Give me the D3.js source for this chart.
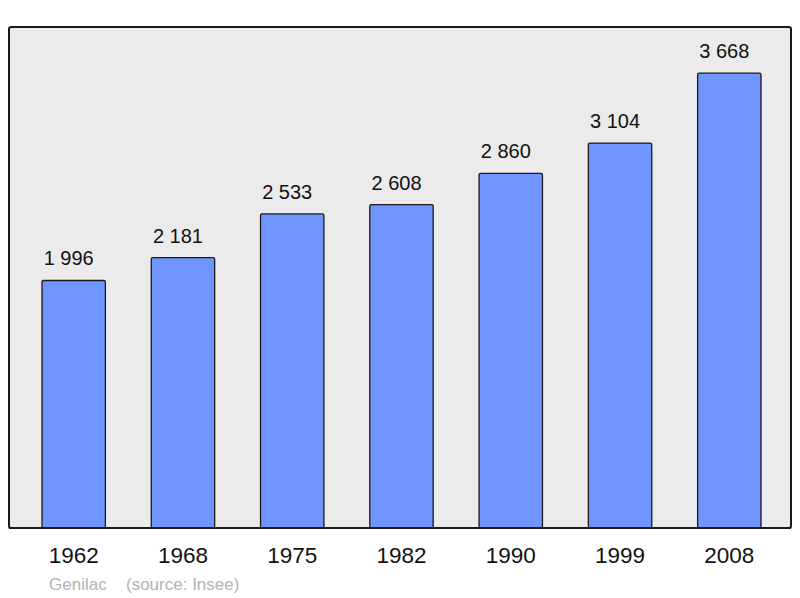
<!DOCTYPE html>
<html>
<head>
<meta charset="utf-8">
<script src="https://cdn.jsdelivr.net/npm/d3@7"></script>
<style>
  body { margin: 0; background: #fff; }
  svg { display: block; font-family: "Liberation Sans", Arial, sans-serif; }
</style>
</head>
<body>
<script>
// population by census year
const years = ["1962", "1968", "1975", "1982", "1990", "1999", "2008"];
const population = [1996, 2181, 2533, 2608, 2860, 3104, 3668];
const commune = "Genilac";
const source = "(source: Insee)";

const width = 800, height = 598;
const frame = {left: 9, top: 27, right: 791, bottom: 528};

const svg = d3.select("body").append("svg")
    .attr("width", width)
    .attr("height", height);

// background panel
svg.append("rect")
    .attr("x", frame.left)
    .attr("y", frame.top)
    .attr("width", frame.right - frame.left)
    .attr("height", frame.bottom - frame.top)
    .attr("rx", 2)
    .attr("fill", "#ebebeb")
    .attr("stroke", "#1a1a1a")
    .attr("stroke-width", 2);

const x = d3.scaleBand()
    .domain(years)
    .range([42, 761])
    .paddingInner(0.42)
    .paddingOuter(0);

const y = d3.scaleLinear()
    .domain([0, 4040])
    .range([frame.bottom, frame.top]);

const data = years.map((yr, i) => ({year: yr, value: population[i]}));

// bars
svg.selectAll("rect.bar")
    .data(data)
  .enter().append("rect")
    .attr("class", "bar")
    .attr("x", d => x(d.year))
    .attr("y", d => y(d.value))
    .attr("width", x.bandwidth())
    .attr("height", d => y(0) - y(d.value))
    .attr("rx", 1.5)
    .attr("fill", "#7095ff")
    .attr("stroke", "#1a1a1a")
    .attr("stroke-width", 1.3);

// value labels, with a space as thousands separator
// (the original sits a few px left of bar centre)
const fmt = v => d3.format(",")(v).replace(",", " ");
svg.selectAll("text.val")
    .data(data)
  .enter().append("text")
    .attr("class", "val")
    .attr("x", d => x(d.year) + x.bandwidth() / 2 - 5)
    .attr("y", d => y(d.value) - 15)
    .attr("text-anchor", "middle")
    .attr("font-size", 20)
    .attr("fill", "#111")
    .text(d => fmt(d.value));

// redraw frame bottom edge over bars
svg.append("line")
    .attr("x1", frame.left)
    .attr("x2", frame.right)
    .attr("y1", frame.bottom)
    .attr("y2", frame.bottom)
    .attr("stroke", "#1a1a1a")
    .attr("stroke-width", 2);

// year axis
const axis = svg.append("g")
    .attr("transform", "translate(0," + frame.bottom + ")")
    .call(d3.axisBottom(x).tickSize(0).tickPadding(19));
axis.select(".domain").remove();
axis.selectAll("text")
    .attr("font-size", 22.5)
    .attr("font-family", "Liberation Sans, Arial, sans-serif")
    .attr("fill", "#111");

// caption
svg.append("text")
    .attr("x", 49)
    .attr("y", 590)
    .attr("font-size", 17)
    .attr("fill", "#b3b3b3")
    .text(commune);
svg.append("text")
    .attr("x", 126)
    .attr("y", 590)
    .attr("font-size", 17)
    .attr("fill", "#b3b3b3")
    .text(source);
</script>
</body>
</html>
